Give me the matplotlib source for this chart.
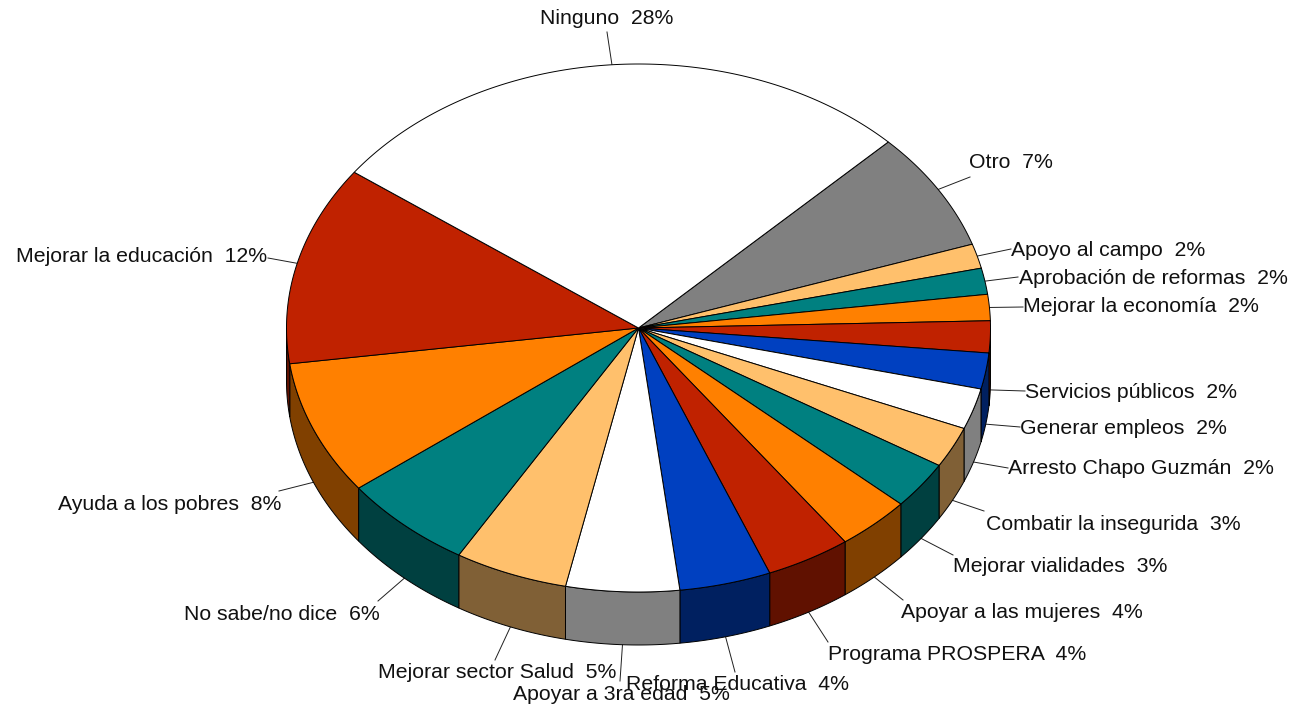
import numpy as np
import matplotlib
matplotlib.use("Agg")
import matplotlib.pyplot as plt
from matplotlib.patches import Polygon

# slices clockwise, starting from the Ninguno / Otro edge at the back right
labels = ["Otro", "Apoyo al campo", "Aprobación de reformas", "Mejorar la economía",
          "Servicios públicos", "Generar empleos", "Arresto Chapo Guzmán",
          "Combatir la insegurida", "Mejorar vialidades", "Apoyar a las mujeres",
          "Programa PROSPERA", "Reforma Educativa", "Apoyar a 3ra edad",
          "Mejorar sector Salud", "No sabe/no dice", "Ayuda a los pobres",
          "Mejorar la educación", "Ninguno"]
shares = [7.3, 1.5, 1.6, 1.6, 1.95, 2.2, 2.5, 2.5, 2.9, 3.4,
          3.9, 4.2, 5.2, 5.2, 6.1, 8.2, 12.2, 27.5]
shown = [7, 2, 2, 2, 2, 2, 2, 3, 3, 4, 4, 4, 5, 5, 6, 8, 12, 28]
colors = ["#808080", "#FFC06C", "#008080", "#FF8000", "#C02200", "#0040C0",
          "#FFFFFF", "#FFC06C", "#008080", "#FF8000", "#C02200", "#0040C0",
          "#FFFFFF", "#FFC06C", "#008080", "#FF8000", "#C02200", "#FFFFFF"]

# label placement in pixels: text left, text middle, leader end x, leader end y
label_x = [969, 1011, 1019, 1023, 1025, 1020, 1008, 986, 953, 901, 828, 626, 513, 378, 184, 58, 16, 540]
label_y = [163, 250, 278, 307, 392, 428, 468, 524, 567, 612, 655, 684, 695, 672, 615, 505, 257, 18]
leader_x = [970, 1011, 1018, 1023, 1025, 1020, 1008, 984, 953, 903, 828, 735, 620, 495, 378, 279, 268, 607]
leader_y = [177, 249, 277, 307, 391, 427, 468, 511, 555, 600, 642, 672, 681, 660, 601, 491, 258, 32]

cx, cy, rx, ry = 638.5, 328, 352, 264
depth = 53
start_angle = 45.2

plt.rcParams["font.family"] = ["Liberation Sans", "DejaVu Sans"]


def edge(theta):
    t = np.radians(theta)
    return cx + rx * np.sin(t), cy - ry * np.cos(t)


def darker(c):
    r, g, b = matplotlib.colors.to_rgb(c)
    return (r / 2, g / 2, b / 2)


fig = plt.figure(figsize=(12.9, 7.07), dpi=100)
ax = fig.add_axes([0, 0, 1, 1])
ax.set_xlim(0, 1290)
ax.set_ylim(707, 0)
ax.axis("off")

ends = start_angle + np.cumsum(shares) / sum(shares) * 360
starts = np.r_[start_angle, ends[:-1]]

# rim first, only the part that faces the viewer (90 to 270 degrees)
for a, b, c in zip(starts, ends, colors):
    lo, hi = max(a, 90), min(b, 270)
    if lo >= hi:
        continue
    x, y = edge(np.linspace(lo, hi, 60))
    px = np.r_[x, x[::-1]]
    py = np.r_[y, y[::-1] + depth]
    ax.add_patch(Polygon(np.c_[px, py], fc=darker(c), ec="black", lw=0.7, zorder=2))

for a, b, c in zip(starts, ends, colors):
    x, y = edge(np.linspace(a, b, 120))
    pts = np.c_[np.r_[cx, x], np.r_[cy, y]]
    ax.add_patch(Polygon(pts, fc=c, ec="black", lw=0.7, joinstyle="round", zorder=3))

for i, name in enumerate(labels):
    mid = (starts[i] + ends[i]) / 2
    x0, y0 = edge(mid)
    # on the front half the leader leaves from the lower rim
    if 90 < mid % 360 < 270:
        y0 += depth
    ax.plot([x0, leader_x[i]], [y0, leader_y[i]], color="#202020", lw=0.7, zorder=1)
    ax.text(label_x[i], label_y[i], f"{name}  {shown[i]}%", fontsize=15.3,
            color="#111111", ha="left", va="center", zorder=5)

fig.savefig("out.png", dpi=100, facecolor="white")
